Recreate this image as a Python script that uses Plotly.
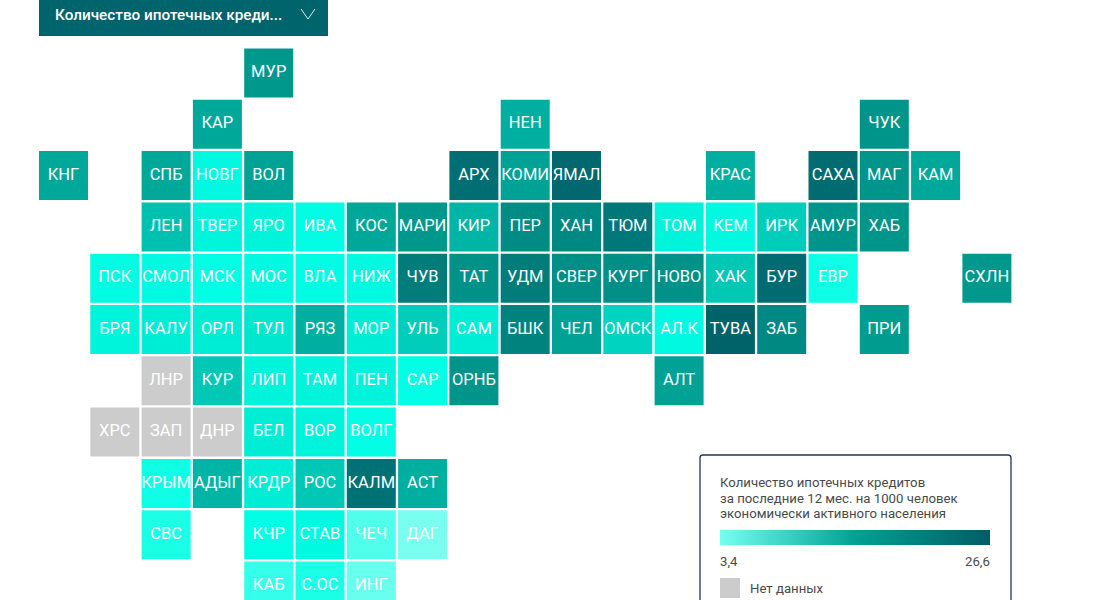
import plotly.graph_objects as go

codes = ["МУР","КАР","НЕН","ЧУК",
 "КНГ","СПБ","НОВГ","ВОЛ","АРХ","КОМИ","ЯМАЛ","КРАС","САХА","МАГ","КАМ",
 "ЛЕН","ТВЕР","ЯРО","ИВА","КОС","МАРИ","КИР","ПЕР","ХАН","ТЮМ","ТОМ","КЕМ","ИРК","АМУР","ХАБ",
 "ПСК","СМОЛ","МСК","МОС","ВЛА","НИЖ","ЧУВ","ТАТ","УДМ","СВЕР","КУРГ","НОВО","ХАК","БУР","ЕВР","СХЛН",
 "БРЯ","КАЛУ","ОРЛ","ТУЛ","РЯЗ","МОР","УЛЬ","САМ","БШК","ЧЕЛ","ОМСК","АЛ.К","ТУВА","ЗАБ","ПРИ",
 "КУР","ЛИП","ТАМ","ПЕН","САР","ОРНБ","АЛТ",
 "БЕЛ","ВОР","ВОЛГ",
 "КРЫМ","АДЫГ","КРДР","РОС","КАЛМ","АСТ",
 "СВС","КЧР","СТАВ","ЧЕЧ","ДАГ",
 "КАБ","С.ОС","ИНГ"]
cols = [4,3,9,16,
 0,2,3,4,8,9,10,13,15,16,17,
 2,3,4,5,6,7,8,9,10,11,12,13,14,15,16,
 1,2,3,4,5,6,7,8,9,10,11,12,13,14,15,18,
 1,2,3,4,5,6,7,8,9,10,11,12,13,14,16,
 3,4,5,6,7,8,12,
 4,5,6,
 2,3,4,5,6,7,
 2,4,5,6,7,
 4,5,6]
rows = [0,1,1,1,
 2,2,2,2,2,2,2,2,2,2,2,
 3,3,3,3,3,3,3,3,3,3,3,3,3,3,3,
 4,4,4,4,4,4,4,4,4,4,4,4,4,4,4,4,
 5,5,5,5,5,5,5,5,5,5,5,5,5,5,5,
 6,6,6,6,6,6,6,
 7,7,7,
 8,8,8,8,8,8,
 9,9,9,9,9,
 10,10,10]
values = [16.5,15,14.5,17,
 15,15,8.5,15.5,23.5,15.5,24.5,14.5,24,17,15,
 13,9,9,8.2,15,16.5,14,18.5,19,22,9,8.5,12,17,17,
 8.2,8.5,8,8.5,8.3,8.5,21,17.5,21,18,18,17.5,12.5,24,7.5,16.5,
 9,9.5,9.5,10,14.5,9.5,12,9.5,20,15.5,11.5,8.5,25.5,19,16,
 12.5,9,9,9,8,17,15.5,
 9.5,9,8,
 7.5,14,9.5,12.5,23,14.5,
 7,8,8.5,5,3.4,
 6,7,4]
nodata_codes = ["ЛНР","ХРС","ЗАП","ДНР"]
nodata_cols = [2,1,2,3]
nodata_rows = [6,7,7,7]

vmin, vmax = 3.4, 26.6
scale = [[0,"#78fff0"],[0.2,"#00ffe5"],[0.55,"#009a8e"],[1,"#005c66"]]
legend_scale = [[0,"#74fff0"],[0.5,"#00a294"],[1,"#005c66"]]
FONT = "Roboto"

fig = go.Figure()
fig.add_trace(go.Scatter(
    x=cols, y=rows, text=codes, mode="markers+text",
    marker=dict(symbol="square", size=49, color=values, cmin=vmin, cmax=vmax,
                colorscale=scale, line=dict(width=0)),
    textposition="middle center",
    textfont=dict(family=FONT, size=16.5, color="white"),
    hoverinfo="text", showlegend=False))
fig.add_trace(go.Scatter(
    x=nodata_cols, y=nodata_rows, text=nodata_codes, mode="markers+text",
    marker=dict(symbol="square", size=49, color="#cccccc", line=dict(width=0)),
    textposition="middle center",
    textfont=dict(family=FONT, size=16.5, color="white"),
    hoverinfo="text", showlegend=False))
fig.add_trace(go.Scatter(
    x=[None, None], y=[None, None], mode="markers", hoverinfo="skip", showlegend=False,
    marker=dict(color=[vmin, vmax], cmin=vmin, cmax=vmax, colorscale=legend_scale,
                colorbar=dict(orientation="h", lenmode="pixels", len=270, thickness=15,
                              thicknessmode="pixels", x=720/1120, xanchor="left",
                              y=1-530/600, yanchor="top", xpad=0, ypad=0,
                              outlinewidth=0, showticklabels=False, ticks=""))))

def px(x): return x/1120
def py(y): return 1-y/600

shapes = [
    dict(type="rect", xref="paper", yref="paper", x0=px(39), x1=px(328), y0=py(36), y1=py(0),
         fillcolor="#00646c", line=dict(width=0), layer="below"),
    dict(type="path", xref="paper", yref="paper",
         path=f"M {px(301)} {py(9)} L {px(308)} {py(19)} L {px(315)} {py(9)}",
         line=dict(color="#d5eeee", width=1)),
    dict(type="path", xref="paper", yref="paper",
         path=f"M {px(700)} {py(610)} L {px(700)} {py(458)} Q {px(700)} {py(455)} {px(703)} {py(455)} "
              f"L {px(1008)} {py(455)} Q {px(1011)} {py(455)} {px(1011)} {py(458)} L {px(1011)} {py(610)} Z",
         fillcolor="white", line=dict(color="#27345a", width=1.3), layer="below"),
    dict(type="rect", xref="paper", yref="paper", x0=px(720), x1=px(740), y0=py(598), y1=py(578),
         fillcolor="#cccccc", line=dict(width=0)),
]

def note(text, x, y, size=13.2, color="#4a4a4a", anchor="left", weight=None):
    fig.add_annotation(text=text, xref="paper", yref="paper", x=px(x), y=py(y), showarrow=False,
                       xanchor=anchor, yanchor="middle", align="left",
                       borderpad=0, borderwidth=0,
                       font=dict(family=FONT, size=size, color=color, weight=weight))

note("Количество ипотечных креди...", 55, 15, size=15.3, color="white", weight=500)
note("Количество ипотечных кредитов", 720, 482.5)
note("за последние 12 мес. на 1000 человек", 720, 498)
note("экономически активного населения", 720, 513)
note("3,4", 720, 561)
note("26,6", 990, 561, anchor="right")
note("Нет данных", 750, 588)

fig.update_layout(
    width=1120, height=600, margin=dict(l=0, r=0, t=0, b=0),
    paper_bgcolor="white", plot_bgcolor="white", shapes=shapes,
    xaxis=dict(range=[-63.5/51.3, (1120-63.5)/51.3], visible=False),
    yaxis=dict(range=[(600-73)/51.3, -73/51.3], visible=False),
)
fig.write_html("out.html", config={"displayModeBar": False},
               post_script="document.body.style.margin='0';document.documentElement.style.overflow='hidden';")
